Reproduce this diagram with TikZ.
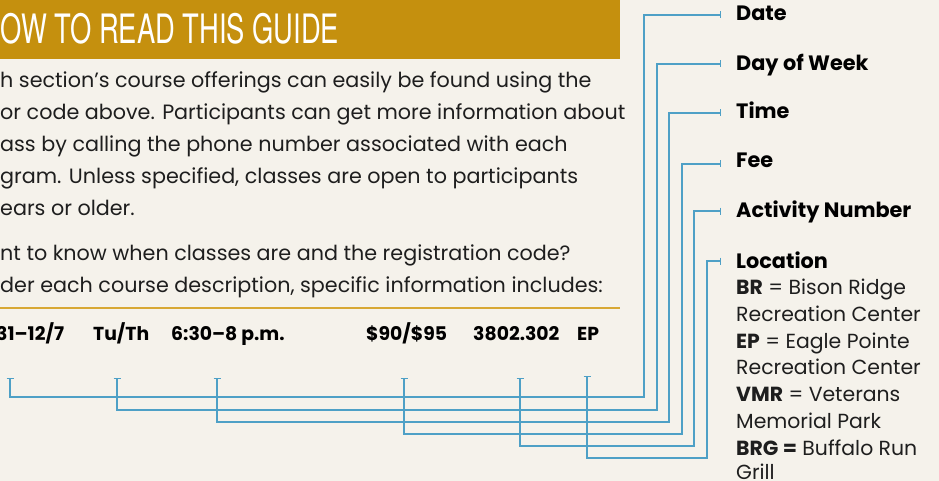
\documentclass[tikz,border=0pt]{standalone}
\usepackage{fontspec}
\setmainfont{Poppins}
\newfontfamily\titlefont[FakeStretch=0.675]{TeX Gyre Heros}
\usetikzlibrary{arrows.meta}
\definecolor{bgc}{RGB}{245,242,235}
\definecolor{gold}{RGB}{197,144,14}
\definecolor{rulegold}{RGB}{216,168,52}
\definecolor{conn}{RGB}{78,160,198}
\definecolor{ink}{RGB}{30,30,30}
\tikzset{
  bodyline/.style={anchor=base west,inner sep=0pt,text=ink,font=\fontsize{20.7}{20.7}\selectfont},
  datacell/.style={anchor=base west,inner sep=0pt,text=black,font=\fontsize{18.8}{18.8}\selectfont\bfseries},
  keylabel/.style={anchor=base west,inner sep=0pt,text=black,font=\fontsize{20.8}{20.8}\selectfont\bfseries},
  locline/.style={anchor=base west,inner sep=0pt,text=ink,font=\fontsize{20.4}{20.4}\selectfont},
  connector/.style={draw=conn,line width=1.4pt,{Bar[width=7pt,line width=1.2pt]}-{Bar[width=7pt,line width=1.2pt]}},
}
\begin{document}
\begin{tikzpicture}[x=1pt,y=-1pt]
\useasboundingbox (0,0) rectangle (939,481);
\fill[bgc] (0,0) rectangle (939,481);
% banner
\fill[gold] (0,0) rectangle (620,59);
\node[anchor=base west,inner sep=0pt,text=white,font=\fontsize{40.5}{40.5}\selectfont\titlefont] (title) at (0.5,44) {OW TO READ THIS GUIDE};
% paragraph
\node[bodyline] (l1) at (0,88) {h section’s course offerings can easily be found using the};
\node[bodyline] (l2) at (0,120) {or code above. Participants can get more information about};
\node[bodyline] (l3) at (0,152) {ass by calling the phone number associated with each};
\node[bodyline] (l4) at (0,183) {gram. Unless specified, classes are open to participants};
\node[bodyline] (l5) at (0,215) {ears or older.};
\node[bodyline] (l6) at (0,260) {nt to know when classes are and the registration code?};
\node[bodyline] (l7) at (0,292) {der each course description, specific information includes:};
\draw[rulegold,line width=1.5pt] (0,308) -- (620,308);
% data row
\node[datacell] (d1) at (-4,340) {31–12/7};
\node[datacell] (d2) at (93,340) {Tu/Th};
\node[datacell] (d3) at (171,340) {6:30–8 p.m.};
\node[datacell] (d4) at (366,340) {\$90/\$95};
\node[datacell] (d5) at (473,340) {3802.302};
\node[datacell] (d6) at (577,340) {EP};
% labels
\node[keylabel] (kdate) at (736,21) {Date};
\node[keylabel] (kday) at (736,71) {Day of Week};
\node[keylabel] (ktime) at (736,119) {Time};
\node[keylabel] (kfee) at (736,168) {Fee};
\node[keylabel] (kact) at (736,218) {Activity Number};
\node[keylabel] (kloc) at (736,268) {Location};
\node[locline] (m1) at (736,294) {\textbf{BR} = Bison Ridge};
\node[locline] (m2) at (736,321) {Recreation Center};
\node[locline] (m3) at (736,348) {\textbf{EP} = Eagle Pointe};
\node[locline] (m4) at (736,374) {Recreation Center};
\node[locline] (m5) at (736,401) {\textbf{VMR} = Veterans};
\node[locline] (m6) at (736,428) {Memorial Park};
\node[locline] (m7) at (736,455) {\textbf{BRG =} Buffalo Run};
\node[locline] (m8) at (736,479) {Grill};
% tick coordinates
\coordinate (t1) at (10,378);
\coordinate (t2) at (117,378);
\coordinate (t3) at (217,378);
\coordinate (t4) at (404,378);
\coordinate (t5) at (520,378);
\coordinate (t6) at (587,376);
% corners
\coordinate (c1) at (644,397);
\coordinate (c2) at (657,410);
\coordinate (c3) at (669,422);
\coordinate (c4) at (682,434);
\coordinate (c5) at (694,446);
\coordinate (c6) at (707,458);
% ends
\coordinate (e1) at (721,15);
\coordinate (e2) at (721,64);
\coordinate (e3) at (721,113);
\coordinate (e4) at (721,164);
\coordinate (e5) at (721,211);
\coordinate (e6) at (721,261);
\draw[connector] (t1) |- (c1) |- (e1);
\draw[connector] (t2) |- (c2) |- (e2);
\draw[connector] (t3) |- (c3) |- (e3);
\draw[connector] (t4) |- (c4) |- (e4);
\draw[connector] (t5) |- (c5) |- (e5);
\draw[connector] (t6) |- (c6) |- (e6);
\end{tikzpicture}
\end{document}
